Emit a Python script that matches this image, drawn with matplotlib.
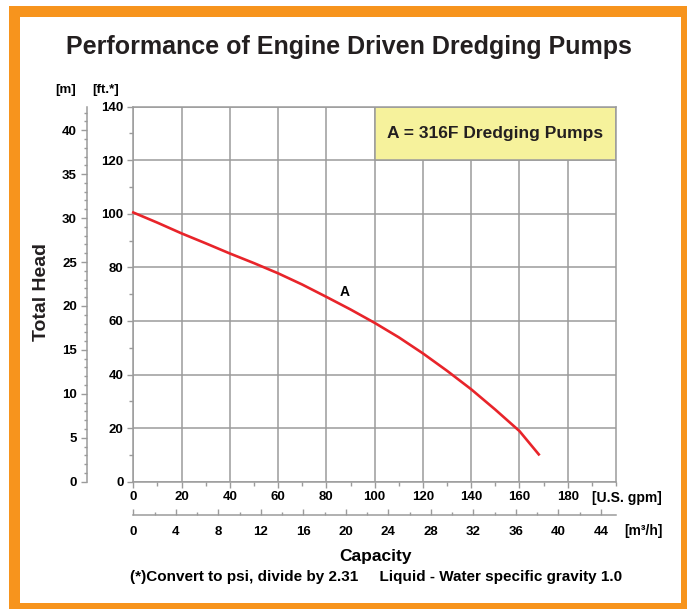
import numpy as np
import matplotlib
matplotlib.use("Agg")
import matplotlib.pyplot as plt
from matplotlib.patches import Rectangle
import matplotlib.ticker as ticker

# curve A (U.S. gpm vs ft)
gpm = [0, 10, 20, 30, 40, 50, 60, 70, 80, 90, 100, 110, 120, 130, 140, 150, 160, 168]
head_ft = [100.5, 96.7, 92.7, 89.0, 85.2, 81.6, 77.8, 73.6, 69.0, 64.3, 59.3, 53.9,
           47.9, 41.4, 34.5, 26.9, 18.9, 10.2]

title = "Performance of Engine Driven Dredging Pumps"
legend_text = "A = 316F Dredging Pumps"
footnote = "(*)Convert to psi, divide by 2.31     Liquid - Water specific gravity 1.0"

GPM_PER_M3H = 4.4029
FT_PER_M = 3.2808

W, H = 687, 609
fig = plt.figure(figsize=(W / 100, H / 100), dpi=100)
fig.patch.set_facecolor("white")

grey = "#9b9b9b"
orange = "#f7941d"
sans = ["Liberation Sans", "DejaVu Sans"]
ink = "#231f20"

def fx(px):
    return px / W

def fy(py):
    return 1 - py / H

# orange frame
for x0, y0, x1, y1 in [(9, 6, 20, 609), (9, 6, 687, 17), (681, 6, 687, 609), (9, 603, 687, 609)]:
    fig.patches.append(Rectangle((fx(x0), fy(y1)), fx(x1) - fx(x0), fy(y0) - fy(y1),
                                 transform=fig.transFigure, color=orange, lw=0))

ax = fig.add_axes([fx(133.3), fy(481.7), fx(616) - fx(133.3), fy(106.7) - fy(481.7)])
ax.set_xlim(0, 200)
ax.set_ylim(0, 140)
ax.set_xticks(np.arange(0, 181, 20))
ax.set_xticks(np.arange(0, 201, 10), minor=True)
ax.set_yticks(np.arange(0, 141, 20))
ax.set_yticks(np.arange(0, 141, 10), minor=True)
ax.grid(True, which="major", color=grey, lw=1.1)
ax.set_axisbelow(True)
for s in ax.spines.values():
    s.set_color(grey)
    s.set_linewidth(1.1)
ax.tick_params(which="both", colors=grey, labelcolor="black", direction="out")
ax.tick_params(which="major", length=4, width=1.0, labelsize=9.5, pad=3)
ax.tick_params(which="minor", length=3, width=1.0)
for lab in ax.get_xticklabels() + ax.get_yticklabels():
    lab.set_fontweight("bold")
    lab.set_family(sans)

# legend box
ax.add_patch(Rectangle((100, 120), 100, 20, facecolor="#f6f29c", edgecolor=grey, lw=1.1, zorder=1.5))
ax.text(150, 130, legend_text, ha="center", va="center", fontsize=12.5,
        fontweight="bold", family=sans, color=ink, zorder=3)

ax.plot(gpm, head_ft, color="#e8242a", lw=1.9, zorder=3, clip_on=False)
ax.text(87.5, 71, "A", fontsize=10, fontweight="bold", family=sans, ha="center", va="center")

# metre axis
secy = ax.secondary_yaxis((86.7 - 133.3) / (616 - 133.3),
                          functions=(lambda f: f / FT_PER_M, lambda m: m * FT_PER_M))
secy.set_yticks(np.arange(0, 41, 5))
secy.yaxis.set_minor_locator(ticker.MultipleLocator(1))
secy.spines["left"].set_color(grey)
secy.spines["left"].set_linewidth(1.1)
secy.tick_params(which="both", colors=grey, labelcolor="black", direction="out")
secy.tick_params(which="major", length=4, width=1.0, labelsize=9.5, pad=3)
secy.tick_params(which="minor", length=2.5, width=1.0)
for lab in secy.get_yticklabels():
    lab.set_fontweight("bold")
    lab.set_family(sans)

# m3/h axis
secx = ax.secondary_xaxis((481.7 - 515) / (481.7 - 106.7),
                          functions=(lambda g: g / GPM_PER_M3H, lambda q: q * GPM_PER_M3H))
secx.set_xticks(np.arange(0, 45, 4))
secx.xaxis.set_minor_locator(ticker.MultipleLocator(2))
secx.spines["bottom"].set_color(grey)
secx.spines["bottom"].set_linewidth(1.1)
secx.tick_params(which="both", colors=grey, labelcolor="black", direction="in")
secx.tick_params(which="major", length=4, width=1.0, labelsize=9.5, pad=8)
secx.tick_params(which="minor", length=2.5, width=1.0)
for lab in secx.get_xticklabels():
    lab.set_fontweight("bold")
    lab.set_family(sans)

# texts
fig.text(fx(349), fy(47), title, ha="center", va="center", fontsize=18,
         fontweight="bold", family=sans, color=ink)
fig.text(fx(42), fy(292), "Total Head", ha="center", va="center", rotation=90,
         fontsize=14, fontweight="bold", family=sans, color=ink)
fig.text(fx(66), fy(90), "[m]", ha="center", va="center", fontsize=9.5, fontweight="bold", family=sans)
fig.text(fx(106), fy(90), "[ft.*]", ha="center", va="center", fontsize=9.5, fontweight="bold", family=sans)
fig.text(fx(626.5), fy(498), "[U.S. gpm]", ha="center", va="center", fontsize=10, fontweight="bold", family=sans)
fig.text(fx(643), fy(531), "[m³/h]", ha="center", va="center", fontsize=10, fontweight="bold", family=sans)
fig.text(fx(376), fy(557), "Capacity", ha="center", va="center", fontsize=12.5, fontweight="bold", family=sans)
fig.text(fx(376), fy(577), footnote, ha="center", va="center", fontsize=11, fontweight="bold", family=sans)

fig.savefig("out.png", dpi=100)
